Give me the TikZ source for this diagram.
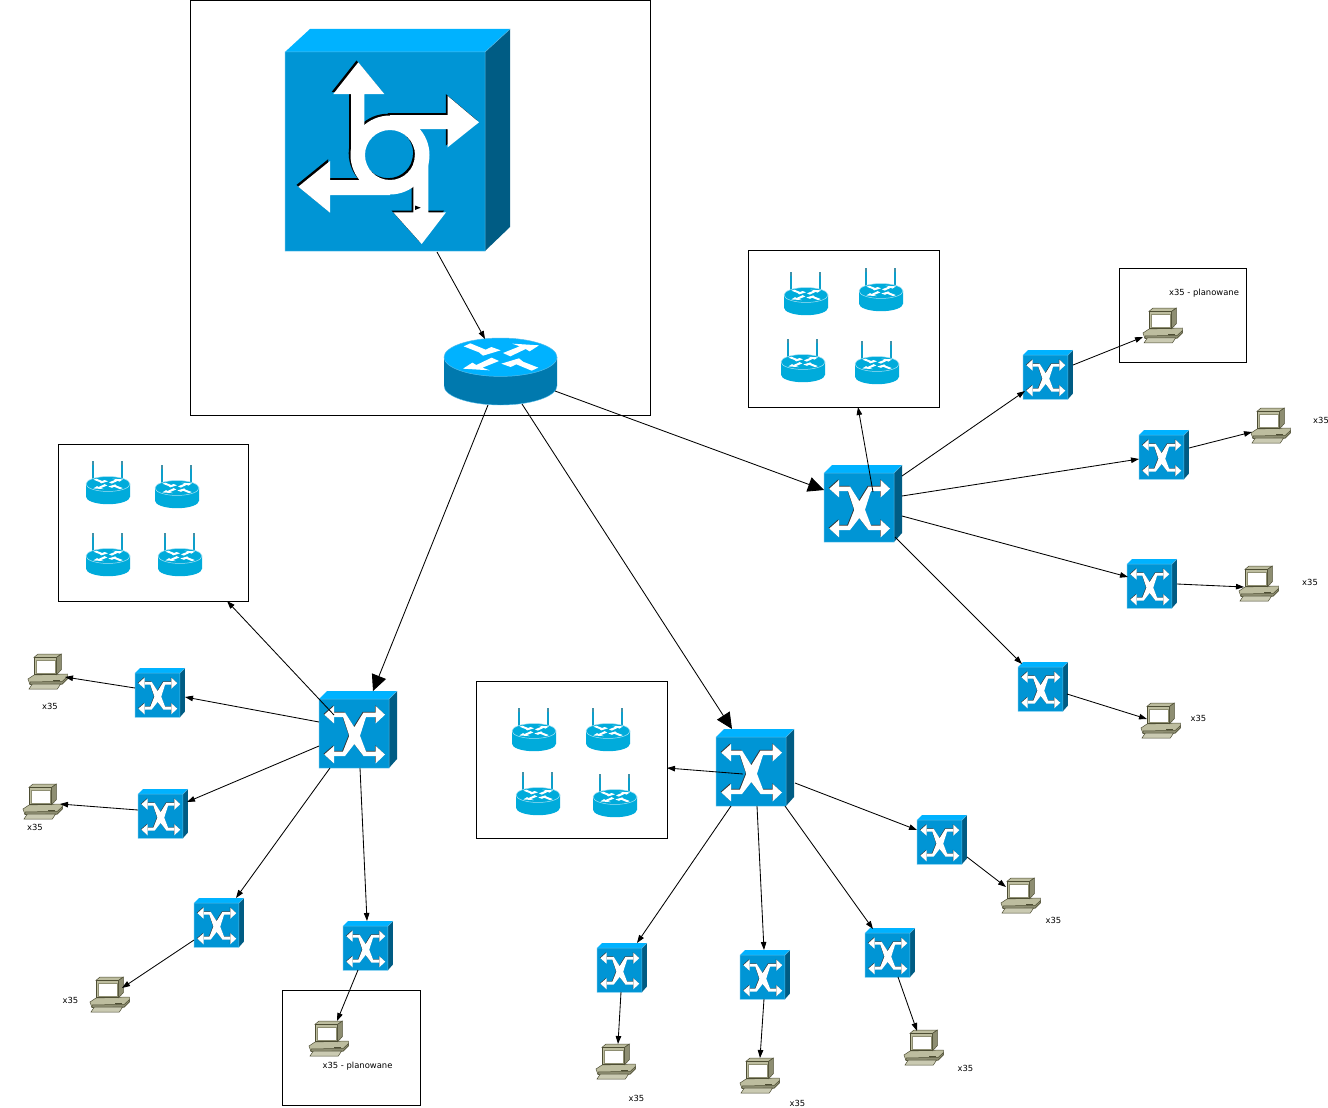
\documentclass[tikz,border=0pt]{standalone}
\usepackage{fontspec}
\setmainfont{DejaVu Sans}
\usetikzlibrary{arrows.meta,calc}
\definecolor{cfront}{HTML}{0095D5}
\definecolor{ctop}{HTML}{00B2FF}
\definecolor{cside}{HTML}{005C84}
\definecolor{cedge}{HTML}{55BDEB}
\definecolor{rside}{HTML}{0079AE}
\definecolor{wbody}{HTML}{00ABDB}
\definecolor{wedge}{HTML}{A8E2F4}
\definecolor{wanten}{HTML}{0C9FCB}
\definecolor{pcbody}{HTML}{BDBD9F}
\definecolor{pcdark}{HTML}{8E8E72}
\definecolor{pcline}{HTML}{4D4D33}
\tikzset{
  holder/.style={anchor=north west,inner sep=0pt,outer sep=0pt},
  framebox/.style={holder,draw=black,line width=0.9pt,fill=none},
  conn/.style={draw=black,line width=0.85pt,-{Triangle[length=8pt,width=5.5pt]}},
  bigconn/.style={draw=black,line width=0.85pt,-{Triangle[length=16pt,width=15pt]}},
  lbl/.style={inner sep=0pt,font=\fontsize{8.4}{10}\selectfont,text=black}
}
% connector between two named nodes, offsets from their north west corners
\newcommand\lk[5][conn]{\draw[#1] ($(#2.north west)+(#3)$) -- ($(#4.north west)+(#5)$);}
% framed box
\newcommand\frameb[5]{\node[framebox,minimum width=#4pt,minimum height=#5pt] (#1) at (#2,#3) {};}
% switch glyph
\newcommand\xglyph[1]{%
  \fill[#1] (15,13.5)--(26,13.5)--(35.3,28.3)--(44.5,13.5)--(57,13.5)--(57,18)--(47,18)--(41,36.7)--(47,52.5)--(57,52.5)--(57,57)--(44.5,57)--(35.3,45)--(26,57)--(15,57)--(15,52.5)--(24,52.5)--(30.3,36.7)--(24,18)--(15,18)--cycle;
  \fill[#1] (5.3,15.7)--(15,7)--(15,24.4)--cycle;
  \fill[#1] (66,15.7)--(56.7,7)--(56.7,24.4)--cycle;
  \fill[#1] (5.3,55.5)--(15,47)--(15,64.4)--cycle;
  \fill[#1] (66,55.5)--(56.7,47)--(56.7,64.4)--cycle;}
% switch icon: name,x,y,scale
\newcommand\swi[4]{%
  \node[holder,minimum width=#4*78pt,minimum height=#4*77pt] (#1) at (#2,#3) {};
  \begin{scope}[shift={(#2,#3)},scale=#4]
    \fill[ctop] (0,8)--(8,0)--(78,0)--(70,8)--cycle;
    \fill[cside] (70,8)--(78,0)--(78,68)--(70,77)--cycle;
    \fill[cfront] (0,8) rectangle (70,77);
    \draw[cedge,line width=0.5pt] (70,8)--(0,8)--(0,77)--(70,77)--cycle (70,8)--(78,0);
    \begin{scope}[shift={(0,8)}]
      \begin{scope}[shift={(-0.7,-0.7)}]\xglyph{black!80}\end{scope}
      \xglyph{white}
    \end{scope}
  \end{scope}}
% router arrows
\newcommand\routerarrows{%
  \begin{scope}[shift={(57,19)},scale=0.3333]
    \fill[white] (-112,-32)--(-92,-41)--(-46,-22)--(-29,-30)--(-1,-20)--(-54,-4)--(-66,-14)--cycle;
    \fill[white] (6,-12)--(56,-32)--(34,-40)--(114,-35)--(86,-17)--(74,-24)--(28,-2)--cycle;
    \begin{scope}[xscale=-1,yscale=-1]
      \fill[white] (-112,-32)--(-92,-41)--(-46,-22)--(-29,-30)--(-1,-20)--(-54,-4)--(-66,-14)--cycle;
      \fill[white] (6,-12)--(56,-32)--(34,-40)--(114,-35)--(86,-17)--(74,-24)--(28,-2)--cycle;
    \end{scope}
  \end{scope}}
% large router
\newcommand\rtr[3]{%
  \node[holder,minimum width=113pt,minimum height=67pt] (#1) at (#2,#3) {};
  \begin{scope}[shift={(#2,#3)}]
    \fill[rside] (0,19.2) -- (0,47.8) arc[x radius=56.5,y radius=19.2,start angle=180,end angle=0] -- (113,19.2) -- cycle;
    \draw[cedge,line width=0.4pt] (0,47.8) arc[x radius=56.5,y radius=19.2,start angle=180,end angle=0];
    \fill[ctop] (56.5,19.2) ellipse[x radius=56.5,y radius=19.2];
    \draw[cedge,line width=0.5pt] (56.5,19.2) ellipse[x radius=56.5,y radius=19.2];
    \routerarrows
  \end{scope}}
% wireless router: name,x,y (top of antennas)
\newcommand\wrt[3]{%
  \node[holder,minimum width=44pt,minimum height=44pt] (#1) at (#2,#3) {};
  \begin{scope}[shift={(#2,#3)}]
    \draw[wanten,line width=1.3pt] (7,1.5)--(7,18) (36,1.5)--(36,18);
    \draw[wanten!55!gray,line width=1.3pt] (7,0)--(7,3.5) (36,0)--(36,3.5);
    \begin{scope}[shift={(0,15.5)},scale=0.3894]
      \fill[wbody] (0,19.2) -- (0,52) arc[x radius=56.5,y radius=19.2,start angle=180,end angle=0] -- (113,19.2) -- cycle;
      \fill[wbody] (56.5,19.2) ellipse[x radius=56.5,y radius=19.2];
      \draw[wedge,line width=0.5pt] (56.5,19.2) ellipse[x radius=56.5,y radius=19.2];
      \routerarrows
    \end{scope}
  \end{scope}}
% computer
\newcommand\comp[3]{%
  \node[holder,minimum width=40pt,minimum height=36pt] (#1) at (#2,#3) {};
  \begin{scope}[shift={(#2,#3)},scale=0.3333,line width=0.5pt,draw=pcline]
    \filldraw[fill=pcbody] (0,75)--(18,63)--(118,60)--(118,75)--(103,90)--(6,92)--cycle;
    \filldraw[fill=pcdark] (6,92)--(103,90)--(118,75)--(118,68)--(103,82)--(6,84)--cycle;
    \filldraw[fill=pcbody!80!white] (3,105)--(13,90)--(98,90)--(88,105)--cycle;
    \filldraw[fill=pcbody] (18,10)--(30,0)--(100,0)--(86,10)--cycle;
    \filldraw[fill=pcbody] (18,10) rectangle (86,62);
    \filldraw[fill=white,draw=pcdark] (25,18) rectangle (81,58);
    \filldraw[fill=pcdark] (86,10)--(100,0)--(100,47)--(86,62)--cycle;
    \fill[pcline] (76,77) rectangle (96,81);
  \end{scope}}
\begin{document}
\begin{tikzpicture}[x=1pt,y=-1pt]
\useasboundingbox (0,0) rectangle (1328,1108);
\fill[white] (0,0) rectangle (1328,1108);
% frames
\frameb{bigbox}{190}{0}{460}{415}
\frameb{wNE}{748}{250}{191}{157}
\frameb{planNE}{1119}{268}{127}{94}
\frameb{wSW}{58}{444}{190}{157}
\frameb{wS}{476}{681}{191}{157}
\frameb{planS}{282}{990}{138}{115}
% big central unit
\node[holder,minimum width=225pt,minimum height=222pt] (big) at (285,29) {};
\fill[ctop] (285,52)--(310,29)--(510,29)--(485,52)--cycle;
\fill[cside] (485,52)--(510,29)--(510,227)--(485,251)--cycle;
\fill[cfront] (285,52) rectangle (485,251);
\draw[cedge,line width=0.5pt] (485,52)--(285,52)--(285,251)--(485,251)--cycle (485,52)--(510,29);
\newcommand\bigshape[1]{%
  \fill[#1] (358.3,62.3)--(384.3,94)--(364.3,94)--(364.3,155)--(351,155)--(351,94)--(333.3,94)--cycle;
  \fill[#1] (479,122.3)--(447.7,147.3)--(447.7,129)--(390,129)--(390,115)--(447.7,115)--(447.7,96)--cycle;
  \fill[#1] (298.3,186.7)--(330,161)--(330,180)--(390,180)--(390,195)--(330,195)--(330,212.7)--cycle;
  \fill[#1] (421.7,244)--(393.3,212.3)--(413.3,212.3)--(413.3,155)--(428.3,155)--(428.3,212.3)--(446,212.3)--cycle;
  \fill[#1] (390,155) circle[radius=39.5];}
\begin{scope}[even odd rule]
  \clip (280,50) rectangle (490,255) (388.2,153.2) circle[radius=25];
  \begin{scope}[shift={(-1.8,-1.8)}]\bigshape{black}\end{scope}
\end{scope}
\begin{scope}[even odd rule]
  \clip (280,50) rectangle (490,255) (390,155) circle[radius=25];
  \bigshape{white}
\end{scope}
\fill[black] (415,205.5)--(420.7,207.7)--(415,210)--cycle;
% central router
\rtr{rt}{444}{338}
% wireless groups
\wrt{wa1}{784}{272}\wrt{wa2}{859}{268}\wrt{wa3}{781}{339}\wrt{wa4}{855}{341}
\wrt{wb1}{86}{461}\wrt{wb2}{155}{465}\wrt{wb3}{86}{533}\wrt{wb4}{158}{533}
\wrt{wc1}{512}{708}\wrt{wc2}{586}{708}\wrt{wc3}{516}{772}\wrt{wc4}{593}{774}
% large switches
\swi{swNE}{824}{465}{1}
\swi{swSW}{319}{691}{1}
\swi{swS}{716}{729}{1}
% small switches
\swi{a1}{1023}{350}{0.64}\swi{a2}{1139}{430}{0.64}\swi{a3}{1127}{559}{0.64}\swi{a4}{1018}{662}{0.64}
\swi{b1}{135}{668}{0.64}\swi{b2}{138}{789}{0.64}\swi{b3}{194}{898}{0.64}\swi{b4}{343}{921}{0.64}
\swi{c1}{917}{815}{0.64}\swi{c2}{865}{928}{0.64}\swi{c3}{740}{950}{0.64}\swi{c4}{597}{943}{0.64}
% computers
\comp{pa1}{1143}{308}\comp{pa2}{1251}{408}\comp{pa3}{1239}{566}\comp{pa4}{1141}{703}
\comp{pb1}{28}{654}\comp{pb2}{23}{784}\comp{pb3}{90}{977}\comp{pb4}{309}{1021}
\comp{pc1}{1001}{878}\comp{pc2}{904}{1030}\comp{pc3}{740}{1058}\comp{pc4}{596}{1044}
% connectors
\lk{big}{152,223}{rt}{41,1}
\lk[bigconn]{rt}{111,53}{swNE}{0,25}
\lk[bigconn]{rt}{44,67}{swSW}{54,0}
\lk[bigconn]{rt}{78,66}{swS}{16,0}
\lk{swNE}{49,27}{wNE}{110,157}
\lk{swNE}{78,11}{a1}{2,41}
\lk{swNE}{78,31}{a2}{0,29}
\lk{swNE}{78,51}{a3}{1,18}
\lk{swNE}{71,72}{a4}{4,2}
\lk{a1}{50,15}{pa1}{0,29}
\lk{a2}{50,18}{pa2}{1,24}
\lk{a3}{50,25}{pa3}{5,21}
\lk{a4}{49,32}{pa4}{6,16}
\lk{swSW}{15,24}{wSW}{169,157}
\lk{swSW}{0,31}{b1}{50,29}
\lk{swSW}{0,55}{b2}{49,13}
\lk{swSW}{11,77}{b3}{42,0}
\lk{swSW}{41,77}{b4}{24,0}
\lk{b1}{0,20}{pb1}{37,23}
\lk{b2}{0,21}{pb2}{37,20}
\lk{b3}{0,42}{pb3}{32,11}
\lk{b4}{15,49}{pb4}{28,0}
\lk{swS}{27,45}{wS}{191,87}
\lk{swS}{79,54}{c1}{0,15}
\lk{swS}{69,77}{c2}{8,1}
\lk{swS}{41,77}{c3}{24,0}
\lk{swS}{15,77}{c4}{40,0}
\lk{c1}{50,42}{pc1}{5,9}
\lk{c2}{33,49}{pc2}{13,1}
\lk{c3}{24,49}{pc3}{20,0}
\lk{c4}{24,49}{pc4}{22,0}
% labels
\node[lbl] (t1) at (1204,293.5) {x35 - planowane};
\node[lbl] (t2) at (1321,420.5) {x35};
\node[lbl] (t3) at (1310,582.5) {x35};
\node[lbl] (t4) at (1198.5,718.5) {x35};
\node[lbl] (t5) at (50,706.5) {x35};
\node[lbl] (t6) at (35,827.5) {x35};
\node[lbl] (t7) at (70.5,1000.5) {x35};
\node[lbl] (t8) at (357.5,1066.5) {x35 - planowane};
\node[lbl] (t9) at (1053.5,920.5) {x35};
\node[lbl] (t10) at (965.5,1068) {x35};
\node[lbl] (t11) at (797.5,1103.5) {x35};
\node[lbl] (t12) at (636.5,1098.5) {x35};
\end{tikzpicture}
\end{document}
